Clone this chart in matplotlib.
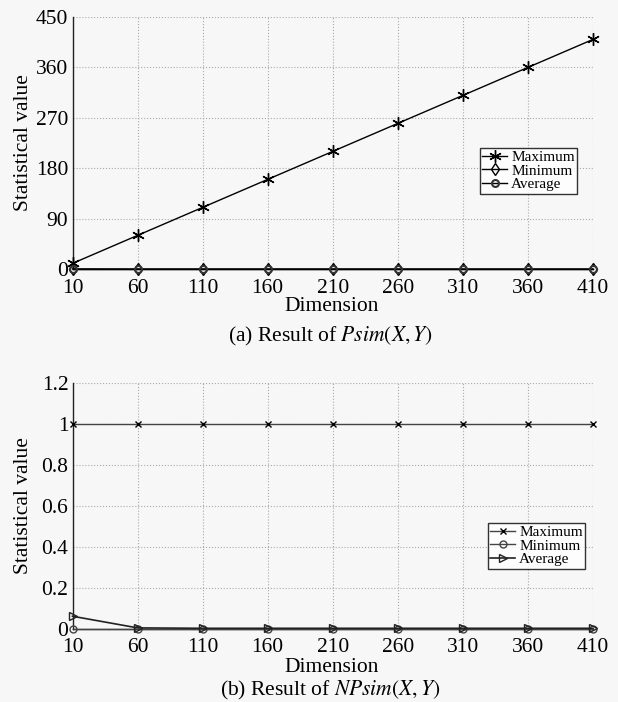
import matplotlib
matplotlib.use("Agg")
import matplotlib.pyplot as plt

plt.rcParams['font.family'] = ['Liberation Serif', 'DejaVu Serif']
plt.rcParams['mathtext.fontset'] = 'stix'

dims = [10, 60, 110, 160, 210, 260, 310, 360, 410]

# (a) Psim
psim_max = [10, 60, 110, 160, 210, 260, 310, 360, 410]
psim_min = [0, 0, 0, 0, 0, 0, 0, 0, 0]
psim_avg = [0.2, 0.1, 0.1, 0.1, 0.1, 0.1, 0.1, 0.1, 0.1]

# (b) NPsim
npsim_max = [1, 1, 1, 1, 1, 1, 1, 1, 1]
npsim_min = [0, 0, 0, 0, 0, 0, 0, 0, 0]
npsim_avg = [0.06, 0.003, 0.001, 0.001, 0.001, 0.001, 0.001, 0.001, 0.001]

yticks_a = [0, 90, 180, 270, 360, 450]
yticks_b = [0, 0.2, 0.4, 0.6, 0.8, 1, 1.2]
ytick_labels_b = ['0', '0.2', '0.4', '0.6', '0.8', '1', '1.2']

bg = '#f7f7f7'
fig = plt.figure(figsize=(6.18, 7.02), dpi=100, facecolor=bg)

W, H = 618, 702
L, R = 72.5, 593
def rect(l, r, t, b):
    return [l / W, 1 - b / H, (r - l) / W, (b - t) / H]

ax1 = fig.add_axes(rect(L, R, 17, 269))
ax2 = fig.add_axes(rect(L, R, 383, 628.5))

fs = 15.5

def style(ax, yt, ylabels=None):
    ax.set_facecolor('none')
    ax.set_xlim(10, 410)
    ax.set_xticks(dims)
    ax.set_xticklabels([str(d) for d in dims], fontsize=fs)
    ax.set_yticks(yt)
    if ylabels is not None:
        ax.set_yticklabels(ylabels, fontsize=fs)
    else:
        ax.set_yticklabels([str(v) for v in yt], fontsize=fs)
    ax.set_ylim(yt[0], yt[-1])
    ax.grid(True, color='#aaaaaa', linestyle=':', linewidth=0.8)
    ax.set_axisbelow(True)
    for s in ['top', 'right']:
        ax.spines[s].set_visible(False)
    for s in ['left', 'bottom']:
        ax.spines[s].set_color('#222222')
        ax.spines[s].set_linewidth(1.0)
    ax.tick_params(axis='y', length=0, pad=3)
    ax.tick_params(axis='x', length=0, pad=7)
    ax.set_ylabel('Statistical value', fontsize=fs)
    ax.yaxis.set_label_coords((33 - L) / (R - L), 0.5)

leg_kw = dict(fontsize=11, frameon=True, fancybox=False, edgecolor='black', facecolor='white',
              handlelength=1.6, handletextpad=0.3, borderpad=0.15, labelspacing=0.0, borderaxespad=0)

# (a)
ax1.plot(dims, psim_max, color='black', lw=1.0, marker=(6, 2, 0), ms=9, mec='black', mew=1.0,
         label='Maximum', clip_on=False, zorder=3)
ax1.plot(dims, psim_min, color='black', lw=1.0, marker='d', ms=6, mfc='none', mec='black',
         label='Minimum', clip_on=False, zorder=3)
ax1.plot(dims, psim_avg, color='black', lw=1.0, marker='o', ms=5, mfc='none', mec='#333333', mew=1.5,
         label='Average', clip_on=False, zorder=3)
style(ax1, yticks_a)
leg1 = ax1.legend(loc='upper left', bbox_to_anchor=((480 - L) / (R - L), 1 - (148 - 17) / (269 - 17)), **leg_kw)
leg1.get_frame().set_linewidth(1.0)

# (b)
ax2.plot(dims, npsim_max, color='#444444', lw=1.0, marker='x', ms=5, mec='black',
         label='Maximum', clip_on=False, zorder=3)
ax2.plot(dims, npsim_min, color='#444444', lw=1.0, marker='o', ms=5, mfc='none', mec='#444444',
         label='Minimum', clip_on=False, zorder=3)
ax2.plot(dims, npsim_avg, color='#222222', lw=1.2, marker='>', ms=6, mfc='none', mec='#222222',
         label='Average', clip_on=False, zorder=3)
style(ax2, yticks_b, ytick_labels_b)
leg2 = ax2.legend(loc='upper left', bbox_to_anchor=((488 - L) / (R - L), 1 - (523 - 383) / (628.5 - 383)), **leg_kw)
leg2.get_frame().set_linewidth(1.0)

fig.text(332 / W, 1 - 307 / H, 'Dimension', ha='center', va='center', fontsize=fs)
fig.text(330 / W, 1 - 336 / H, r'(a) Result of $\mathbf{\mathit{Psim}}(X,Y)$', ha='center', va='center', fontsize=fs)
fig.text(332 / W, 1 - 667 / H, 'Dimension', ha='center', va='center', fontsize=fs)
fig.text(330 / W, 1 - 690 / H, r'(b) Result of $\mathbf{\mathit{NPsim}}(X,Y)$', ha='center', va='center', fontsize=fs)

fig.savefig('out.png', dpi=100, facecolor=bg)
